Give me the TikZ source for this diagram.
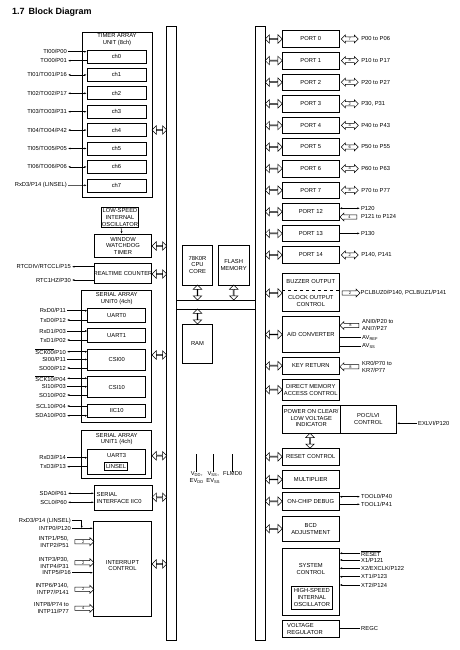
\documentclass[tikz,border=0pt]{standalone}
\usepackage{fontspec}
\setmainfont{Liberation Sans}
\usetikzlibrary{shapes.arrows,arrows.meta,fit}
\newcommand{\blkfont}{\fontsize{5.8}{6.8}\selectfont}
\newcommand{\ovl}[1]{$\overline{\mbox{#1}}$}
\newcommand{\lowtxt}[1]{\textsubscript{#1}}
\tikzset{
  blk/.style={draw, line width=0.6pt, inner sep=0pt, align=center, font=\blkfont},
  txt/.style={inner sep=0pt, align=center, font=\blkfont},
  lbl/.style={anchor=east, inner sep=1pt, align=right, font=\blkfont},
  rlbl/.style={anchor=west, inner sep=1pt, align=left, font=\blkfont},
  bar/.style={draw, line width=0.5pt},
  sig/.style={line width=0.5pt},
  sin/.style={sig, -{Latex[length=2.4pt,width=2pt]}},
  sout/.style={sig, {Latex[length=2.4pt,width=2pt]}-},
  sio/.style={sig, {Latex[length=2.4pt,width=2pt]}-{Latex[length=2.4pt,width=2pt]}},
  busarr/.style={double arrow, draw, line width=0.5pt, inner sep=0pt, minimum height=#1,
    minimum width=8.5pt, double arrow head extend=2pt, double arrow head indent=0pt},
  busarr/.default=14.7pt,
  pinarr/.style={double arrow, draw, line width=0.5pt, inner sep=0.4pt, minimum height=17pt,
    minimum width=8pt, double arrow head extend=1.8pt, font=\fontsize{4}{4}\selectfont},
  numarr/.style={single arrow, draw, line width=0.5pt, inner sep=0.4pt, minimum height=19pt,
    minimum width=8pt, single arrow head extend=1.8pt, font=\fontsize{4}{4}\selectfont},
  inbox/.style={blk, line width=0.9pt},
}
\begin{document}
\begin{tikzpicture}[x=1pt,y=-1pt]
\useasboundingbox (0,0) rectangle (460,650);
\node[anchor=west, inner sep=0pt, font=\bfseries\fontsize{9}{10}\selectfont] (title) at (12,12) {1.7\hspace{4pt}Block Diagram};

% internal buses
\draw[bar] (166.7,26) rectangle (176,640);
\draw[bar] (255.5,26) rectangle (265,640);
\draw[bar] (176,300) -- (255.5,300);
\draw[bar] (176,309) -- (255.5,309);

% timer array unit
\node[blk, fit={(82,32) (152,197)}] (tau) {};
\node[txt] at (117,39.5) {TIMER ARRAY\\UNIT (8ch)};
\foreach \i in {0,...,7}
  \node[blk, minimum width=59pt, minimum height=13pt] (ch\i) at (116.5,{56.5+18.4*\i}) {ch\i};
\node[lbl] (ti00) at (68,51.7) {TI00/P00};
\node[lbl] (to00) at (68,60.7) {TO00/P01};
\draw[sin] (ti00) -- (ti00 -| ch0.west);
\draw[sout] (to00) -- (to00 -| ch0.west);
\foreach \i/\t in {1/{TI01/TO01/P16},2/{TI02/TO02/P17},3/{TI03/TO03/P31},4/{TI04/TO04/P42},5/{TI05/TO05/P05},6/{TI06/TO06/P06}}{
  \node[lbl] (tio\i) at (68,{56.5+18.4*\i}) {\t};
  \draw[sio] (tio\i) -- (ch\i.west);
}
\node[lbl] (lin7) at (68,185.3) {RxD3/P14 (LINSEL)};
\draw[sin] (lin7) -- (ch7.west);
\node[busarr] at (159.4,130) {};

% watchdog and realtime counter
\node[blk, fit={(101.7,207.3) (138.3,227.3)}] (losc) {};
\node[txt] at (losc) {LOW-SPEED\\INTERNAL\\OSCILLATOR};
\node[blk, fit={(94.3,234) (151.7,257.7)}] (wdt) {};
\node[txt] at (wdt) {WINDOW\\WATCHDOG\\TIMER};
\draw[sin] (losc) -- (wdt);
\node[busarr] at (159.4,246) {};
\node[blk, fit={(94.3,263.3) (151.7,283.3)}] (rtc) {};
\node[txt] at (rtc) {REALTIME COUNTER};
\node[lbl] (rtc1) at (72,266.7) {RTCDIV/RTCCL/P15};
\node[lbl] (rtc2) at (72,280) {RTC1HZ/P30};
\draw[sout] (rtc1) -- (rtc1 -| rtc.west);
\draw[sout] (rtc2) -- (rtc2 -| rtc.west);
\node[busarr] at (159.4,274) {};

% serial array unit 0
\node[blk, fit={(81.7,290) (151.7,422.7)}] (sau0) {};
\node[txt] at (116.7,298.3) {SERIAL ARRAY\\UNIT0 (4ch)};
\foreach \n/\a/\b/\t in {uart0/308.3/322.3/UART0, uart1/328.3/342.3/UART1, csi00/349/370/CSI00,
    csi10/376.7/397.3/CSI10, iic10/404/417.3/IIC10}{
  \node[blk, fit={(87.7,\a) (145.7,\b)}] (\n) {};
  \node[txt] at (\n) {\t};
}
\foreach \y/\t/\s/\b [count=\i] in {310.7/{RxD0/P11}/sin/uart0, 320/{TxD0/P12}/sout/uart0,
    331/{RxD1/P03}/sin/uart1, 340/{TxD1/P02}/sout/uart1,
    351.7/{\ovl{SCK00}/P10}/sio/csi00, 359.5/{SI00/P11}/sin/csi00, 368/{SO00/P12}/sout/csi00,
    378.3/{\ovl{SCK10}/P04}/sio/csi10, 386.7/{SI10/P03}/sin/csi10, 395/{SO10/P02}/sout/csi10,
    406/{SCL10/P04}/sout/iic10, 415.7/{SDA10/P03}/sio/iic10}{
  \node[lbl] (sa\i) at (67,\y) {\t};
  \draw[\s] (sa\i) -- (sa\i -| \b.west);
}
\node[busarr] at (159.4,355) {};

% serial array unit 1
\node[blk, fit={(81.7,430.7) (151.7,478.3)}] (sau1) {};
\node[txt] at (116.7,439) {SERIAL ARRAY\\UNIT1 (4ch)};
\node[blk, fit={(87.7,449.3) (145.7,474.3)}] (uart3) {};
\node[txt] at (116.7,455) {UART3};
\node[inbox, fit={(104.3,462.7) (127.7,470)}] (linsel) {};
\node[txt] at (linsel) {LINSEL};
\node[lbl] (rxd3) at (67,457.7) {RxD3/P14};
\node[lbl] (txd3) at (67,466.7) {TxD3/P13};
\draw[sin] (rxd3) -- (rxd3 -| uart3.west);
\draw[sout] (txd3) -- (txd3 -| uart3.west);
\node[busarr] at (159.4,455.7) {};

% serial interface IIC0
\node[blk, fit={(94.3,485) (152.3,510)}] (iic0) {};
\node[txt, anchor=west, align=left] at (96.5,498) {SERIAL\\INTERFACE IIC0};
\node[lbl] (sda0) at (68,493.3) {SDA0/P61};
\node[lbl] (scl0) at (68,502.3) {SCL0/P60};
\draw[sio] (sda0) -- (sda0 -| iic0.west);
\draw[sio] (scl0) -- (scl0 -| iic0.west);
\node[busarr] at (159.4,497.3) {};

% interrupt control
\node[blk, fit={(93.3,521) (151.7,616)}] (intc) {};
\node[txt] at (122.5,565.5) {INTERRUPT\\CONTROL};
\node[lbl] (linrx) at (72,520.7) {RxD3/P14 (LINSEL)};
\node[lbl] (intp0) at (72,528.3) {INTP0/P120};
\coordinate (jn) at (81.7,528.3);
\draw[sin] (intp0) -- (intp0 -| intc.west);
\draw[sin] (linrx) -| (jn);
\foreach \y/\t/\n [count=\i] in {541.7/{INTP1/P50,\\INTP2/P51}/2, 562.7/{INTP3/P30,\\INTP4/P31}/2,
    589.3/{INTP6/P140,\\INTP7/P141}/2, 608.3/{INTP8/P74 to\\INTP11/P77}/4}{
  \node[lbl] (ip\i) at (70,\y) {\t};
  \node[numarr] (na\i) at (83.3,\y) {\n};
}
\node[lbl] (intp5) at (72,572.7) {INTP5/P16};
\draw[sin] (intp5) -- (intp5 -| intc.west);
\node[busarr] at (159.4,564) {};

% cpu, memories, power pins
\node[blk, fit={(182.3,245) (212.7,285)}] (cpu) {};
\node[txt] at (cpu) {78K0R\\CPU\\CORE};
\node[blk, fit={(218.3,245) (249,285)}] (flash) {};
\node[txt] at (flash) {FLASH\\MEMORY};
\node[busarr=15pt, rotate=90] at (197.5,292.5) {};
\node[busarr=15pt, rotate=90] at (233.7,292.5) {};
\node[blk, fit={(182.3,324) (212.7,363.3)}] (ram) {};
\node[txt] at (ram) {RAM};
\node[busarr=15pt, rotate=90] at (197.5,316.5) {};
\foreach \x/\t [count=\i] in {196.7/{V\lowtxt{DD},\\EV\lowtxt{DD}}, 213.3/{V\lowtxt{SS},\\EV\lowtxt{SS}}, 232.7/{FLMD0}}{
  \coordinate (pw\i) at (\x,454.3);
  \node[txt, anchor=north] (pwl\i) at (\x,471.5) {\t};
  \draw[sig] (pw\i) -- (pwl\i.north);
}

% ports
\foreach \n [count=\i from 0] in {0,1,2,3,4,5,6,7,12,13,14}{
  \node[blk, minimum width=57pt, minimum height=16.5pt] (port\n) at (310.8,{39+21.6*\i}) {PORT \n};
  \node[busarr=17pt] at (273.7,{39+21.6*\i}) {};
}
\foreach \n/\num/\pn in {0/7/{P00 to P06}, 1/8/{P10 to P17}, 2/8/{P20 to P27}, 3/2/{P30, P31},
    4/4/{P40 to P43}, 5/6/{P50 to P55}, 6/4/{P60 to P63}, 7/8/{P70 to P77}, 14/2/{P140, P141}}{
  \node[pinarr] (pa\n) at ([xshift=10.2pt]port\n.east) {\num};
  \node[rlbl] (pl\n) at ([xshift=20.5pt]port\n.east) {\pn};
}
\node[rlbl] (p120) at (359.8,208.3) {P120};
\draw[sio] (p120) -- (p120 -| port12.east);
\node[numarr, minimum height=17pt, shape border rotate=180] (pa12) at (349.5,217) {4};
\node[rlbl] (p121) at (359.8,217) {P121 to P124};
\node[rlbl] (p130) at (359.8,233.4) {P130};
\draw[sout] (p130) -- (p130 -| port13.east);

% buzzer, A/D, key return, DMA
\node[blk, fit={(282.3,273.3) (339.3,311.7)}] (buz) {};
\coordinate (dsh) at (0,290);
\draw[sig, dashed] (buz.west |- dsh) -- (buz.east |- dsh);
\node[txt] at (310.8,281.5) {BUZZER OUTPUT};
\node[txt] at (310.8,300.7) {CLOCK OUTPUT\\CONTROL};
\node[busarr=17pt] at (273.7,293) {};
\node[numarr, minimum height=18pt] (buzo) at (350,293) {2};
\node[rlbl] (buzl) at (359.5,293) {PCLBUZ0/P140, PCLBUZ1/P141};
\node[blk, fit={(282.3,316.7) (339.3,352.3)}] (adc) {};
\node[txt] at (adc) {A/D CONVERTER};
\node[busarr=17pt] at (273.7,334.5) {};
\node[numarr, shape border rotate=180] (adi) at (350.5,325.5) {8};
\node[rlbl] (ani) at (361,325.3) {ANI0/P20 to\\ANI7/P27};
\node[rlbl] (avref) at (361,337.7) {AV\lowtxt{REF}};
\node[rlbl] (avss) at (361,346) {AV\lowtxt{SS}};
\draw[sig] (avref) -- (avref -| adc.east);
\draw[sig] (avss) -- (avss -| adc.east);
\node[blk, fit={(282.3,357.3) (339.3,374)}] (kr) {};
\node[txt] at (kr) {KEY RETURN};
\node[busarr=17pt] at (273.7,365.7) {};
\node[numarr, shape border rotate=180] (kri) at (350.5,366.7) {8};
\node[rlbl] (krl) at (361,367) {KR0/P70 to\\KR7/P77};
\node[blk, fit={(282.3,379.3) (339.3,400)}] (dma) {};
\node[txt] at (dma) {DIRECT MEMORY\\ACCESS CONTROL};
\node[busarr=17pt] at (273.7,389.7) {};

% power on clear, reset
\node[blk, fit={(282.3,405) (340,433.3)}] (poc) {};
\node[txt] at (311.2,418) {POWER ON CLEAR/\\LOW VOLTAGE\\INDICATOR};
\node[blk, fit={(340,405) (396.7,433.3)}] (lvi) {};
\node[txt] at (lvi) {POC/LVI\\CONTROL};
\node[rlbl] (exlvi) at (417,423.3) {EXLVI/P120};
\draw[sin] (exlvi) -- (exlvi -| lvi.east);
\node[blk, fit={(282.3,448.3) (339.3,465)}] (rst) {};
\node[txt] at (rst) {RESET CONTROL};
\node[busarr=15pt, rotate=90] at (310,440.8) {};
\node[busarr=17pt] at (273.7,456.7) {};

% multiplier, debug, BCD
\node[blk, fit={(282.3,470.7) (339.3,488.3)}] (mul) {};
\node[txt] at (mul) {MULTIPLIER};
\node[busarr=17pt] at (273.7,479.5) {};
\node[blk, fit={(282.3,492.7) (339.3,510)}] (ocd) {};
\node[txt] at (ocd) {ON-CHIP DEBUG};
\node[busarr=17pt] at (273.7,501.3) {};
\node[rlbl] (tool0) at (360,496.7) {TOOL0/P40};
\node[rlbl] (tool1) at (360,504.3) {TOOL1/P41};
\draw[sio] (tool0) -- (tool0 -| ocd.east);
\draw[sout] (tool1) -- (tool1 -| ocd.east);
\node[blk, fit={(282.3,516) (339.3,541.7)}] (bcd) {};
\node[txt] at (bcd) {BCD\\ADJUSTMENT};
\node[busarr=17pt] at (273.7,528.8) {};

% system control, regulator
\node[blk, fit={(282.3,548.3) (339.3,615)}] (sysc) {};
\node[txt] at (310.8,569) {SYSTEM\\CONTROL};
\node[inbox, fit={(291,586) (332.7,609.3)}] (hosc) {};
\node[txt] at (hosc) {HIGH-SPEED\\INTERNAL\\OSCILLATOR};
\foreach \y/\t [count=\i] in {553.3/{\ovl{RESET}}, 560/{X1/P121}, 568.3/{X2/EXCLK/P122}, 576.7/{XT1/P123}, 585/{XT2/P124}}{
  \node[rlbl] (sc\i) at (360,\y) {\t};
  \draw[sin] (sc\i) -- (sc\i -| sysc.east);
}
\node[blk, fit={(282.3,620) (339.3,637.3)}] (vreg) {};
\node[txt, anchor=west, align=left] at (287,628.6) {VOLTAGE\\REGULATOR};
\node[rlbl] (regc) at (360,628.3) {REGC};
\draw[sig] (regc) -- (regc -| vreg.east);
\end{tikzpicture}
\end{document}
